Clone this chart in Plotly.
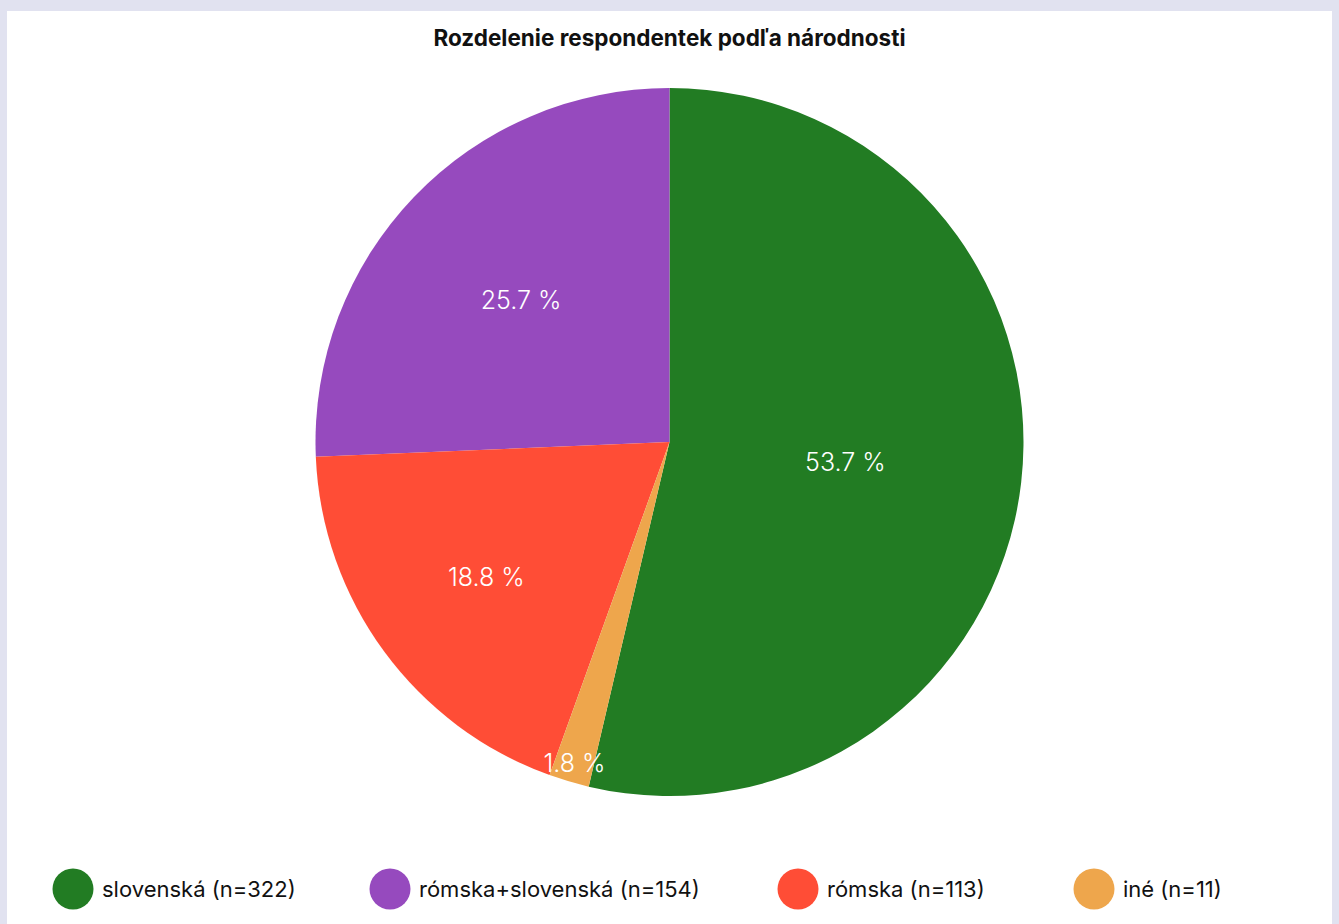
import plotly.graph_objects as go

# Data
categories = ["slovenská", "rómska+slovenská", "rómska", "iné"]
counts = [322, 154, 113, 11]
colors = ["#227C23", "#964ABE", "#FF4D36", "#EEA64C"]
title_text = "Rozdelenie respondentek podľa národnosti"

total = sum(counts)
pct_text = [f"{c / total * 100:.1f} %" for c in counts]

W, H = 1339, 924
M_L, M_R, M_T, M_B = 0, 0, 88, 128
PLOT_H = H - M_T - M_B

fig = go.Figure()
fig.add_trace(go.Pie(
    labels=categories,
    values=counts,
    text=pct_text,
    textinfo="text",
    textposition="inside",
    insidetextorientation="horizontal",
    sort=False,
    direction="counterclockwise",
    rotation=0,
    marker=dict(colors=colors, line=dict(width=0)),
    textfont=dict(family="Inter", size=25, color="white", weight=300),
    hoverinfo="skip",
    showlegend=False,
))

def py(px_y):
    # convert pixel y (from top) to paper y
    return (H - M_B - px_y) / PLOT_H

shapes = [
    dict(type="rect", xref="paper", yref="paper", layer="below",
         x0=7 / W, x1=1332 / W, y0=py(960), y1=py(11),
         fillcolor="white", line=dict(width=0)),
]
annotations = []
legend_cx = [73, 390, 798, 1094]
legend_y = 889
for i, (cat, n) in enumerate(zip(categories, counts)):
    cx = legend_cx[i]
    shapes.append(dict(type="circle", xref="paper", yref="paper",
                       xsizemode="pixel", ysizemode="pixel",
                       xanchor=cx / W, yanchor=py(legend_y),
                       x0=-20.5, x1=20.5, y0=-20.5, y1=20.5,
                       fillcolor=colors[i], line=dict(width=0)))
    annotations.append(dict(xref="paper", yref="paper", x=(cx + 27) / W, y=py(legend_y),
                            xanchor="left", yanchor="middle", showarrow=False,
                            text=f"{cat} (n={n})",
                            font=dict(family="Inter", size=22, color="#111111")))

fig.update_layout(
    width=W, height=H,
    margin=dict(l=M_L, r=M_R, t=M_T, b=M_B),
    paper_bgcolor="#E1E2F0",
    plot_bgcolor="white",
    title=dict(text=f"<b>{title_text}</b>", x=0.5, xanchor="center",
               y=1 - 38 / H, yanchor="middle", yref="container",
               font=dict(family="Inter", size=22.5, color="#111111")),
    uniformtext=dict(minsize=25, mode="show"),
    shapes=shapes,
    annotations=annotations,
)

fig.write_html("out.html",
               config={"displayModeBar": False},
               post_script="document.body.style.margin='0';document.body.style.background='#E1E2F0';")
